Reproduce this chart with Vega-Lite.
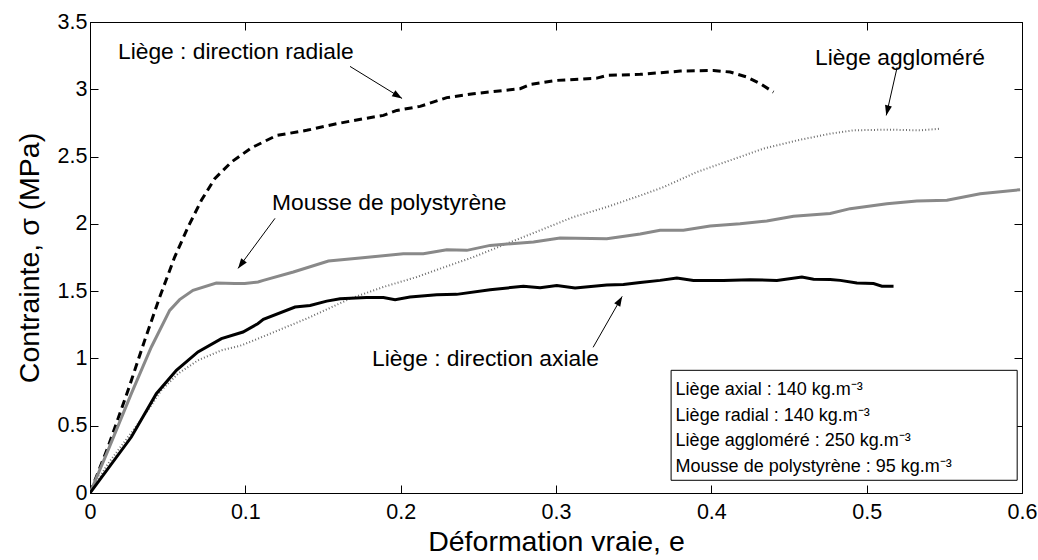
{
  "$schema": "https://vega.github.io/schema/vega-lite/v6.json",
  "width": 932,
  "height": 471,
  "autosize": {"type": "none"},
  "padding": {"left": 90, "top": 22, "right": 16, "bottom": 67},
  "background": "white",
  "config": {
    "view": {"stroke": "black", "strokeWidth": 1},
    "axis": {
      "grid": false,
      "domainColor": "black",
      "tickColor": "black",
      "labelColor": "black",
      "titleColor": "black",
      "labelFont": "Liberation Sans",
      "titleFont": "Liberation Sans",
      "labelFontSize": 21.5,
      "titleFontSize": 28.5,
      "titleFontWeight": "normal",
      "labelFlush": false,
      "tickSize": -8,
      "tickWidth": 1,
      "domainWidth": 1
    },
    "text": {"font": "Liberation Sans", "color": "black"}
  },
  "datasets": {
    "curves": [
      {"s": "axial", "e": 0, "c": 0},
      {"s": "axial", "e": 0.0266, "c": 0.416},
      {"s": "axial", "e": 0.0427, "c": 0.738},
      {"s": "axial", "e": 0.0556, "c": 0.912},
      {"s": "axial", "e": 0.0695, "c": 1.048},
      {"s": "axial", "e": 0.0846, "c": 1.147},
      {"s": "axial", "e": 0.0985, "c": 1.196},
      {"s": "axial", "e": 0.108, "c": 1.258},
      {"s": "axial", "e": 0.1116, "c": 1.29},
      {"s": "axial", "e": 0.132, "c": 1.382},
      {"s": "axial", "e": 0.1417, "c": 1.394},
      {"s": "axial", "e": 0.1524, "c": 1.426},
      {"s": "axial", "e": 0.161, "c": 1.444},
      {"s": "axial", "e": 0.178, "c": 1.452},
      {"s": "axial", "e": 0.1889, "c": 1.452},
      {"s": "axial", "e": 0.1964, "c": 1.437},
      {"s": "axial", "e": 0.206, "c": 1.456},
      {"s": "axial", "e": 0.2232, "c": 1.474},
      {"s": "axial", "e": 0.236, "c": 1.476},
      {"s": "axial", "e": 0.2576, "c": 1.511},
      {"s": "axial", "e": 0.279, "c": 1.536},
      {"s": "axial", "e": 0.2898, "c": 1.526},
      {"s": "axial", "e": 0.3005, "c": 1.541},
      {"s": "axial", "e": 0.3123, "c": 1.523},
      {"s": "axial", "e": 0.3327, "c": 1.545},
      {"s": "axial", "e": 0.3434, "c": 1.55},
      {"s": "axial", "e": 0.3542, "c": 1.565},
      {"s": "axial", "e": 0.367, "c": 1.58},
      {"s": "axial", "e": 0.3778, "c": 1.597},
      {"s": "axial", "e": 0.3885, "c": 1.58},
      {"s": "axial", "e": 0.4078, "c": 1.58},
      {"s": "axial", "e": 0.425, "c": 1.585},
      {"s": "axial", "e": 0.4422, "c": 1.58},
      {"s": "axial", "e": 0.4583, "c": 1.605},
      {"s": "axial", "e": 0.4658, "c": 1.588},
      {"s": "axial", "e": 0.4765, "c": 1.587},
      {"s": "axial", "e": 0.483, "c": 1.58},
      {"s": "axial", "e": 0.4937, "c": 1.56},
      {"s": "axial", "e": 0.5044, "c": 1.556},
      {"s": "axial", "e": 0.5098, "c": 1.536},
      {"s": "axial", "e": 0.5173, "c": 1.536},
      {"s": "radial", "e": 0, "c": 0},
      {"s": "radial", "e": 0.0116, "c": 0.342},
      {"s": "radial", "e": 0.0245, "c": 0.763},
      {"s": "radial", "e": 0.0352, "c": 1.134},
      {"s": "radial", "e": 0.0449, "c": 1.456},
      {"s": "radial", "e": 0.0545, "c": 1.753},
      {"s": "radial", "e": 0.0631, "c": 1.976},
      {"s": "radial", "e": 0.0717, "c": 2.175},
      {"s": "radial", "e": 0.0803, "c": 2.336},
      {"s": "radial", "e": 0.091, "c": 2.459},
      {"s": "radial", "e": 0.1039, "c": 2.565},
      {"s": "radial", "e": 0.1202, "c": 2.657},
      {"s": "radial", "e": 0.1395, "c": 2.695},
      {"s": "radial", "e": 0.1588, "c": 2.744},
      {"s": "radial", "e": 0.176, "c": 2.781},
      {"s": "radial", "e": 0.1889, "c": 2.806},
      {"s": "radial", "e": 0.1975, "c": 2.843},
      {"s": "radial", "e": 0.2125, "c": 2.873},
      {"s": "radial", "e": 0.2297, "c": 2.938},
      {"s": "radial", "e": 0.2468, "c": 2.967},
      {"s": "radial", "e": 0.2769, "c": 3.004},
      {"s": "radial", "e": 0.2833, "c": 3.036},
      {"s": "radial", "e": 0.3005, "c": 3.066},
      {"s": "radial", "e": 0.3263, "c": 3.083},
      {"s": "radial", "e": 0.3327, "c": 3.103},
      {"s": "radial", "e": 0.3542, "c": 3.111},
      {"s": "radial", "e": 0.38, "c": 3.135},
      {"s": "radial", "e": 0.4014, "c": 3.14},
      {"s": "radial", "e": 0.4121, "c": 3.128},
      {"s": "radial", "e": 0.4229, "c": 3.091},
      {"s": "radial", "e": 0.4314, "c": 3.042},
      {"s": "radial", "e": 0.44, "c": 2.979},
      {"s": "agglo", "e": 0, "c": 0},
      {"s": "agglo", "e": 0.0116, "c": 0.218},
      {"s": "agglo", "e": 0.0245, "c": 0.416},
      {"s": "agglo", "e": 0.0373, "c": 0.614},
      {"s": "agglo", "e": 0.0459, "c": 0.763},
      {"s": "agglo", "e": 0.0567, "c": 0.887},
      {"s": "agglo", "e": 0.0695, "c": 0.986},
      {"s": "agglo", "e": 0.0846, "c": 1.06},
      {"s": "agglo", "e": 0.0974, "c": 1.097},
      {"s": "agglo", "e": 0.1082, "c": 1.147},
      {"s": "agglo", "e": 0.1395, "c": 1.296},
      {"s": "agglo", "e": 0.1674, "c": 1.444},
      {"s": "agglo", "e": 0.1889, "c": 1.531},
      {"s": "agglo", "e": 0.2103, "c": 1.605},
      {"s": "agglo", "e": 0.2254, "c": 1.667},
      {"s": "agglo", "e": 0.2468, "c": 1.753},
      {"s": "agglo", "e": 0.2683, "c": 1.853},
      {"s": "agglo", "e": 0.2898, "c": 1.952},
      {"s": "agglo", "e": 0.3112, "c": 2.051},
      {"s": "agglo", "e": 0.3327, "c": 2.125},
      {"s": "agglo", "e": 0.3542, "c": 2.21},
      {"s": "agglo", "e": 0.3692, "c": 2.273},
      {"s": "agglo", "e": 0.3907, "c": 2.385},
      {"s": "agglo", "e": 0.4121, "c": 2.472},
      {"s": "agglo", "e": 0.4336, "c": 2.559},
      {"s": "agglo", "e": 0.4551, "c": 2.62},
      {"s": "agglo", "e": 0.4765, "c": 2.67},
      {"s": "agglo", "e": 0.4915, "c": 2.695},
      {"s": "agglo", "e": 0.513, "c": 2.7},
      {"s": "agglo", "e": 0.5345, "c": 2.695},
      {"s": "agglo", "e": 0.5473, "c": 2.707},
      {"s": "poly", "e": 0, "c": 0},
      {"s": "poly", "e": 0.0116, "c": 0.317},
      {"s": "poly", "e": 0.0266, "c": 0.738},
      {"s": "poly", "e": 0.0395, "c": 1.085},
      {"s": "poly", "e": 0.0513, "c": 1.357},
      {"s": "poly", "e": 0.0577, "c": 1.437},
      {"s": "poly", "e": 0.0663, "c": 1.506},
      {"s": "poly", "e": 0.0813, "c": 1.56},
      {"s": "poly", "e": 0.0932, "c": 1.556},
      {"s": "poly", "e": 0.0996, "c": 1.556},
      {"s": "poly", "e": 0.1082, "c": 1.568},
      {"s": "poly", "e": 0.1116, "c": 1.58},
      {"s": "poly", "e": 0.1309, "c": 1.642},
      {"s": "poly", "e": 0.1535, "c": 1.724},
      {"s": "poly", "e": 0.1739, "c": 1.746},
      {"s": "poly", "e": 0.2017, "c": 1.778},
      {"s": "poly", "e": 0.2146, "c": 1.778},
      {"s": "poly", "e": 0.2297, "c": 1.808},
      {"s": "poly", "e": 0.2426, "c": 1.803},
      {"s": "poly", "e": 0.2576, "c": 1.84},
      {"s": "poly", "e": 0.2855, "c": 1.865},
      {"s": "poly", "e": 0.3026, "c": 1.894},
      {"s": "poly", "e": 0.3327, "c": 1.89},
      {"s": "poly", "e": 0.3542, "c": 1.925},
      {"s": "poly", "e": 0.367, "c": 1.952},
      {"s": "poly", "e": 0.382, "c": 1.952},
      {"s": "poly", "e": 0.3992, "c": 1.984},
      {"s": "poly", "e": 0.4185, "c": 2.001},
      {"s": "poly", "e": 0.4357, "c": 2.021},
      {"s": "poly", "e": 0.4529, "c": 2.056},
      {"s": "poly", "e": 0.4765, "c": 2.077},
      {"s": "poly", "e": 0.4894, "c": 2.113},
      {"s": "poly", "e": 0.513, "c": 2.15},
      {"s": "poly", "e": 0.5323, "c": 2.169},
      {"s": "poly", "e": 0.5517, "c": 2.175},
      {"s": "poly", "e": 0.5731, "c": 2.224},
      {"s": "poly", "e": 0.5988, "c": 2.254}
    ],
    "notes": [
      {"label": "Liège : direction radiale", "e": 0.018, "c": 3.274},
      {"label": "Mousse de polystyrène", "e": 0.1172, "c": 2.152},
      {"label": "Liège aggloméré", "e": 0.4668, "c": 3.229},
      {"label": "Liège : direction axiale", "e": 0.1816, "c": 0.993}
    ],
    "arrows": [
      {"id": "radial", "e": 0.1674, "c": 3.17, "e2": 0.2009, "c2": 2.932},
      {"id": "poly", "e": 0.1191, "c": 2.041, "e2": 0.0953, "c2": 1.669},
      {"id": "agglo", "e": 0.5196, "c": 3.163, "e2": 0.5126, "c2": 2.806},
      {"id": "axial", "e": 0.3239, "c": 1.0825, "e2": 0.3426, "c2": 1.461}
    ],
    "legendbox": [
      {"e": 0.3741, "e2": 0.5969, "c": 0.0944, "c2": 0.9116}
    ],
    "legendtext": [
      {"label": "Liège axial : 140 kg.m⁻³", "e": 0.377, "c": 0.763},
      {"label": "Liège radial : 140 kg.m⁻³", "e": 0.377, "c": 0.572},
      {"label": "Liège aggloméré : 250 kg.m⁻³", "e": 0.377, "c": 0.384},
      {"label": "Mousse de polystyrène :  95 kg.m⁻³", "e": 0.377, "c": 0.193}
    ]
  },
  "resolve": {"axis": {"x": "independent", "y": "independent"}},
  "layer": [
    {
      "data": {"name": "curves"},
      "transform": [{"filter": "datum.s === 'radial'"}],
      "mark": {"type": "line", "clip": true, "color": "black", "strokeWidth": 3, "strokeDash": [8, 5]},
      "encoding": {
        "x": {
          "field": "e", "type": "quantitative",
          "scale": {"domain": [0, 0.6], "nice": false, "zero": false},
          "axis": {
            "orient": "bottom",
            "values": [0, 0.1, 0.2, 0.3, 0.4, 0.5, 0.6],
            "format": "~g",
            "labelPadding": 16,
            "title": "Déformation vraie, e",
            "titlePadding": 5
          }
        },
        "y": {
          "field": "c", "type": "quantitative",
          "scale": {"domain": [0, 3.5], "nice": false, "zero": false},
          "axis": {
            "orient": "left",
            "values": [0, 0.5, 1, 1.5, 2, 2.5, 3, 3.5],
            "format": "~g",
            "labelPadding": 11,
            "title": "Contrainte, σ (MPa)",
            "titlePadding": 13
          }
        }
      }
    },
    {
      "data": {"name": "curves"},
      "transform": [{"filter": "datum.s === 'agglo'"}],
      "mark": {"type": "line", "clip": true, "color": "#6e6e6e", "strokeWidth": 2, "strokeDash": [1, 2.2]},
      "encoding": {
        "x": {"field": "e", "type": "quantitative", "scale": {"domain": [0, 0.6], "nice": false, "zero": false}, "axis": null},
        "y": {"field": "c", "type": "quantitative", "scale": {"domain": [0, 3.5], "nice": false, "zero": false}, "axis": null}
      }
    },
    {
      "data": {"name": "curves"},
      "transform": [{"filter": "datum.s === 'poly'"}],
      "mark": {"type": "line", "clip": true, "color": "#898989", "strokeWidth": 3},
      "encoding": {
        "x": {"field": "e", "type": "quantitative", "scale": {"domain": [0, 0.6], "nice": false, "zero": false}, "axis": null},
        "y": {"field": "c", "type": "quantitative", "scale": {"domain": [0, 3.5], "nice": false, "zero": false}, "axis": null}
      }
    },
    {
      "data": {"name": "curves"},
      "transform": [{"filter": "datum.s === 'axial'"}],
      "mark": {"type": "line", "clip": true, "color": "black", "strokeWidth": 3},
      "encoding": {
        "x": {"field": "e", "type": "quantitative", "scale": {"domain": [0, 0.6], "nice": false, "zero": false}, "axis": null},
        "y": {"field": "c", "type": "quantitative", "scale": {"domain": [0, 3.5], "nice": false, "zero": false}, "axis": null}
      }
    },
    {
      "data": {"name": "notes"},
      "mark": {"type": "text", "align": "left", "baseline": "middle", "fontSize": 22.8},
      "encoding": {
        "x": {
          "field": "e", "type": "quantitative",
          "scale": {"domain": [0, 0.6], "nice": false, "zero": false},
          "axis": {"orient": "top", "values": [0, 0.1, 0.2, 0.3, 0.4, 0.5, 0.6], "labels": false, "title": null}
        },
        "y": {
          "field": "c", "type": "quantitative",
          "scale": {"domain": [0, 3.5], "nice": false, "zero": false},
          "axis": {"orient": "right", "values": [0, 0.5, 1, 1.5, 2, 2.5, 3, 3.5], "labels": false, "title": null}
        },
        "text": {"field": "label"}
      }
    },
    {
      "data": {"name": "arrows"},
      "mark": {"type": "rule", "color": "black", "strokeWidth": 1},
      "encoding": {
        "x": {"field": "e", "type": "quantitative", "scale": {"domain": [0, 0.6], "nice": false}, "axis": null},
        "y": {"field": "c", "type": "quantitative", "scale": {"domain": [0, 3.5], "nice": false}, "axis": null},
        "x2": {"field": "e2"},
        "y2": {"field": "c2"}
      }
    },
    {
      "data": {"name": "arrows"},
      "transform": [{"filter": "datum.id === 'radial'"}],
      "mark": {"type": "point", "shape": "M0,0L0.35,1L-0.35,1Z", "size": 400, "filled": true, "color": "black", "opacity": 1, "angle": 121.6},
      "encoding": {
        "x": {"field": "e2", "type": "quantitative", "scale": {"domain": [0, 0.6], "nice": false}, "axis": null},
        "y": {"field": "c2", "type": "quantitative", "scale": {"domain": [0, 3.5], "nice": false}, "axis": null}
      }
    },
    {
      "data": {"name": "arrows"},
      "transform": [{"filter": "datum.id === 'poly'"}],
      "mark": {"type": "point", "shape": "M0,0L0.35,1L-0.35,1Z", "size": 400, "filled": true, "color": "black", "opacity": 1, "angle": 216.5},
      "encoding": {
        "x": {"field": "e2", "type": "quantitative", "scale": {"domain": [0, 0.6], "nice": false}, "axis": null},
        "y": {"field": "c2", "type": "quantitative", "scale": {"domain": [0, 3.5], "nice": false}, "axis": null}
      }
    },
    {
      "data": {"name": "arrows"},
      "transform": [{"filter": "datum.id === 'agglo'"}],
      "mark": {"type": "point", "shape": "M0,0L0.35,1L-0.35,1Z", "size": 400, "filled": true, "color": "black", "opacity": 1, "angle": 192.9},
      "encoding": {
        "x": {"field": "e2", "type": "quantitative", "scale": {"domain": [0, 0.6], "nice": false}, "axis": null},
        "y": {"field": "c2", "type": "quantitative", "scale": {"domain": [0, 3.5], "nice": false}, "axis": null}
      }
    },
    {
      "data": {"name": "arrows"},
      "transform": [{"filter": "datum.id === 'axial'"}],
      "mark": {"type": "point", "shape": "M0,0L0.35,1L-0.35,1Z", "size": 400, "filled": true, "color": "black", "opacity": 1, "angle": 29.6},
      "encoding": {
        "x": {"field": "e2", "type": "quantitative", "scale": {"domain": [0, 0.6], "nice": false}, "axis": null},
        "y": {"field": "c2", "type": "quantitative", "scale": {"domain": [0, 3.5], "nice": false}, "axis": null}
      }
    },
    {
      "data": {"name": "legendbox"},
      "mark": {"type": "rect", "fill": "white", "stroke": "black", "strokeWidth": 1},
      "encoding": {
        "x": {"field": "e", "type": "quantitative", "scale": {"domain": [0, 0.6], "nice": false}, "axis": null},
        "x2": {"field": "e2"},
        "y": {"field": "c", "type": "quantitative", "scale": {"domain": [0, 3.5], "nice": false}, "axis": null},
        "y2": {"field": "c2"}
      }
    },
    {
      "data": {"name": "legendtext"},
      "mark": {"type": "text", "align": "left", "baseline": "middle", "fontSize": 18},
      "encoding": {
        "x": {"field": "e", "type": "quantitative", "scale": {"domain": [0, 0.6], "nice": false}, "axis": null},
        "y": {"field": "c", "type": "quantitative", "scale": {"domain": [0, 3.5], "nice": false}, "axis": null},
        "text": {"field": "label"}
      }
    }
  ]
}
